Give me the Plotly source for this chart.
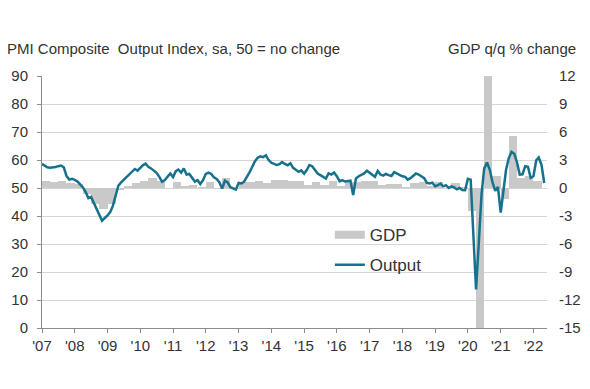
import pandas as pd
import plotly.graph_objects as go

# PMI Composite Output Index, monthly (Jan 2007 - May 2022)
pmi_2007 = [58.6, 57.9, 57.4, 57.2, 57.3, 57.5, 57.8, 58.0, 57.4, 54.3, 53.0, 53.3]
pmi_2008 = [52.9, 52.3, 51.3, 50.2, 48.6, 46.4, 46.8, 44.5, 42.8, 40.5, 38.3, 39.3]
pmi_2009 = [40.2, 41.5, 43.6, 47.3, 50.8, 52.0, 53.0, 54.0, 55.0, 55.8, 56.8, 56.2]
pmi_2010 = [57.3, 58.2, 58.7, 57.6, 57.0, 56.2, 55.4, 54.0, 52.2, 52.8, 54.2, 55.2]
pmi_2011 = [53.9, 56.0, 56.6, 55.5, 57.0, 54.8, 55.0, 53.8, 52.3, 52.8, 51.4, 52.8]
pmi_2012 = [55.0, 55.5, 55.0, 53.8, 53.2, 52.0, 49.8, 52.6, 52.0, 50.3, 49.8, 49.4]
pmi_2013 = [51.8, 51.6, 52.2, 53.8, 55.5, 57.5, 59.5, 60.8, 61.3, 61.0, 61.7, 60.0]
pmi_2014 = [59.0, 58.6, 58.2, 58.5, 59.3, 58.6, 58.1, 58.8, 57.2, 56.5, 55.8, 56.3]
pmi_2015 = [55.1, 56.5, 58.2, 57.8, 56.3, 55.2, 54.6, 54.0, 53.4, 55.2, 54.8, 55.5]
pmi_2016 = [54.2, 52.4, 52.8, 52.3, 52.5, 52.6, 47.5, 53.4, 54.2, 54.6, 55.2, 56.2]
pmi_2017 = [55.5, 54.5, 54.0, 56.1, 54.8, 54.4, 55.0, 54.6, 54.3, 55.7, 55.2, 54.5]
pmi_2018 = [54.2, 54.0, 53.0, 53.5, 54.5, 55.2, 54.8, 54.0, 53.5, 51.8, 51.6, 51.9]
pmi_2019 = [50.6, 51.0, 51.6, 50.6, 51.0, 50.0, 50.6, 50.2, 49.5, 50.0, 49.3, 49.2]
pmi_2020 = [53.3, 53.0, 36.0, 13.8, 30.0, 47.7, 57.0, 59.1, 56.5, 52.1, 49.0, 50.4]
pmi_2021 = [41.2, 49.6, 56.4, 60.7, 62.9, 62.2, 59.2, 54.8, 54.9, 57.8, 57.6, 53.6]
pmi_2022 = [54.2, 59.9, 60.9, 58.2, 51.8]

pmi = (pmi_2007 + pmi_2008 + pmi_2009 + pmi_2010 + pmi_2011 + pmi_2012 + pmi_2013
       + pmi_2014 + pmi_2015 + pmi_2016 + pmi_2017 + pmi_2018 + pmi_2019
       + pmi_2020 + pmi_2021 + pmi_2022)

# GDP q/q % change, quarterly (Q1 2007 - Q1 2022)
gdp_2007_2010 = [0.7, 0.6, 0.7, 0.5, 0.4, -0.6, -1.7, -2.2, -1.7, -0.2, 0.2, 0.5,
                 0.7, 1.1, 0.7, 0.0]
gdp_2011_2014 = [0.6, 0.2, 0.3, 0.1, 0.6, -0.1, 1.1, -0.1, 0.6, 0.6, 0.8, 0.5,
                 0.9, 0.9, 0.7, 0.8]
gdp_2015_2018 = [0.3, 0.6, 0.3, 0.7, 0.2, 0.6, 0.6, 0.7, 0.7, 0.3, 0.4, 0.4,
                 0.1, 0.5, 0.6, 0.2]
gdp_2019_2022 = [0.6, 0.0, 0.5, 0.1, -2.5, -19.4, 16.9, 1.3, -1.2, 5.6, 1.1, 1.3,
                 0.8]
gdp = gdp_2007_2010 + gdp_2011_2014 + gdp_2015_2018 + gdp_2019_2022

year_ticks = [str(y) for y in range(2007, 2023)]
year_labels = ["'" + y[2:] for y in year_ticks]

gdp_ticks = [-15, -12, -9, -6, -3, 0, 3, 6, 9, 12]
gdp_labels = ["-15", "-12", "-9", "-6", "-3", "0", "3", "6", "9", "12"]

months = pd.date_range("2007-01-01", periods=len(pmi), freq="MS")
quarters = pd.date_range("2007-01-01", periods=len(gdp), freq="QS")

TEXT = "#333333"
FONT = "Liberation Sans, Arial, sans-serif"
LINE_COLOR = "#16728c"
BAR_COLOR = "#c9c9c9"
GRID = "#d6d6d6"
AXIS = "#8c8c8c"

fig = go.Figure()

quarter_ms = 91.3 * 24 * 3600 * 1000
fig.add_trace(go.Bar(
    x=quarters, y=gdp, yaxis="y", name="GDP",
    marker=dict(color=BAR_COLOR, line=dict(width=0)),
    width=quarter_ms, offset=0, showlegend=False,
))
# legend entry for GDP (wide swatch)
fig.add_trace(go.Scatter(
    x=[None], y=[None], yaxis="y", mode="lines", name="GDP",
    line=dict(color=BAR_COLOR, width=8), legendgroup="g1",
))
fig.add_trace(go.Scatter(
    x=months, y=pmi, yaxis="y2", mode="lines", name="Output",
    line=dict(color=LINE_COLOR, width=2.5), legendgroup="g2",
))

fig.update_layout(
    width=574, height=373,
    margin=dict(l=34, r=35, t=68, b=53),
    paper_bgcolor="white", plot_bgcolor="white",
    font=dict(family=FONT, size=15, color=TEXT),
    bargap=0,
    xaxis=dict(
        type="date", automargin=False,
        range=["2007-01-01", "2022-06-01"],
        tickvals=year_ticks, ticktext=year_labels,
        showgrid=False, showline=True, linecolor=AXIS, linewidth=1,
        ticks="outside", ticklen=4, tickcolor=AXIS,
        tickfont=dict(size=15, color=TEXT),
        zeroline=False,
    ),
    yaxis=dict(
        side="right", range=[-15, 12], automargin=False,
        tickvals=gdp_ticks, ticktext=gdp_labels,
        showgrid=False, zeroline=False, showline=False,
        ticks="", ticklabelstandoff=11,
        tickfont=dict(size=15, color=TEXT),
    ),
    yaxis2=dict(
        side="left", overlaying="y", range=[0, 90], dtick=10, automargin=False,
        showgrid=True, gridcolor=GRID, gridwidth=1,
        zeroline=False, showline=True, linecolor=AXIS, linewidth=1,
        ticks="outside", ticklen=4, tickcolor=AXIS,
        ticklabelstandoff=6,
        tickfont=dict(size=15, color=TEXT),
    ),
    legend=dict(
        x=0.57, y=0.44, xanchor="left", yanchor="top",
        bgcolor="rgba(0,0,0,0)", font=dict(size=17, color=TEXT),
        tracegroupgap=5, itemwidth=30,
    ),
    annotations=[
        dict(text="PMI Composite  Output Index, sa, 50 = no change",
             xref="paper", yref="paper", x=-0.073, y=1.109,
             xanchor="left", yanchor="middle", showarrow=False,
             font=dict(size=15, color=TEXT)),
        dict(text="GDP q/q % change",
             xref="paper", yref="paper", x=1.061, y=1.109,
             xanchor="right", yanchor="middle", showarrow=False,
             font=dict(size=15, color=TEXT)),
    ],
)

fig.write_html("out.html")
